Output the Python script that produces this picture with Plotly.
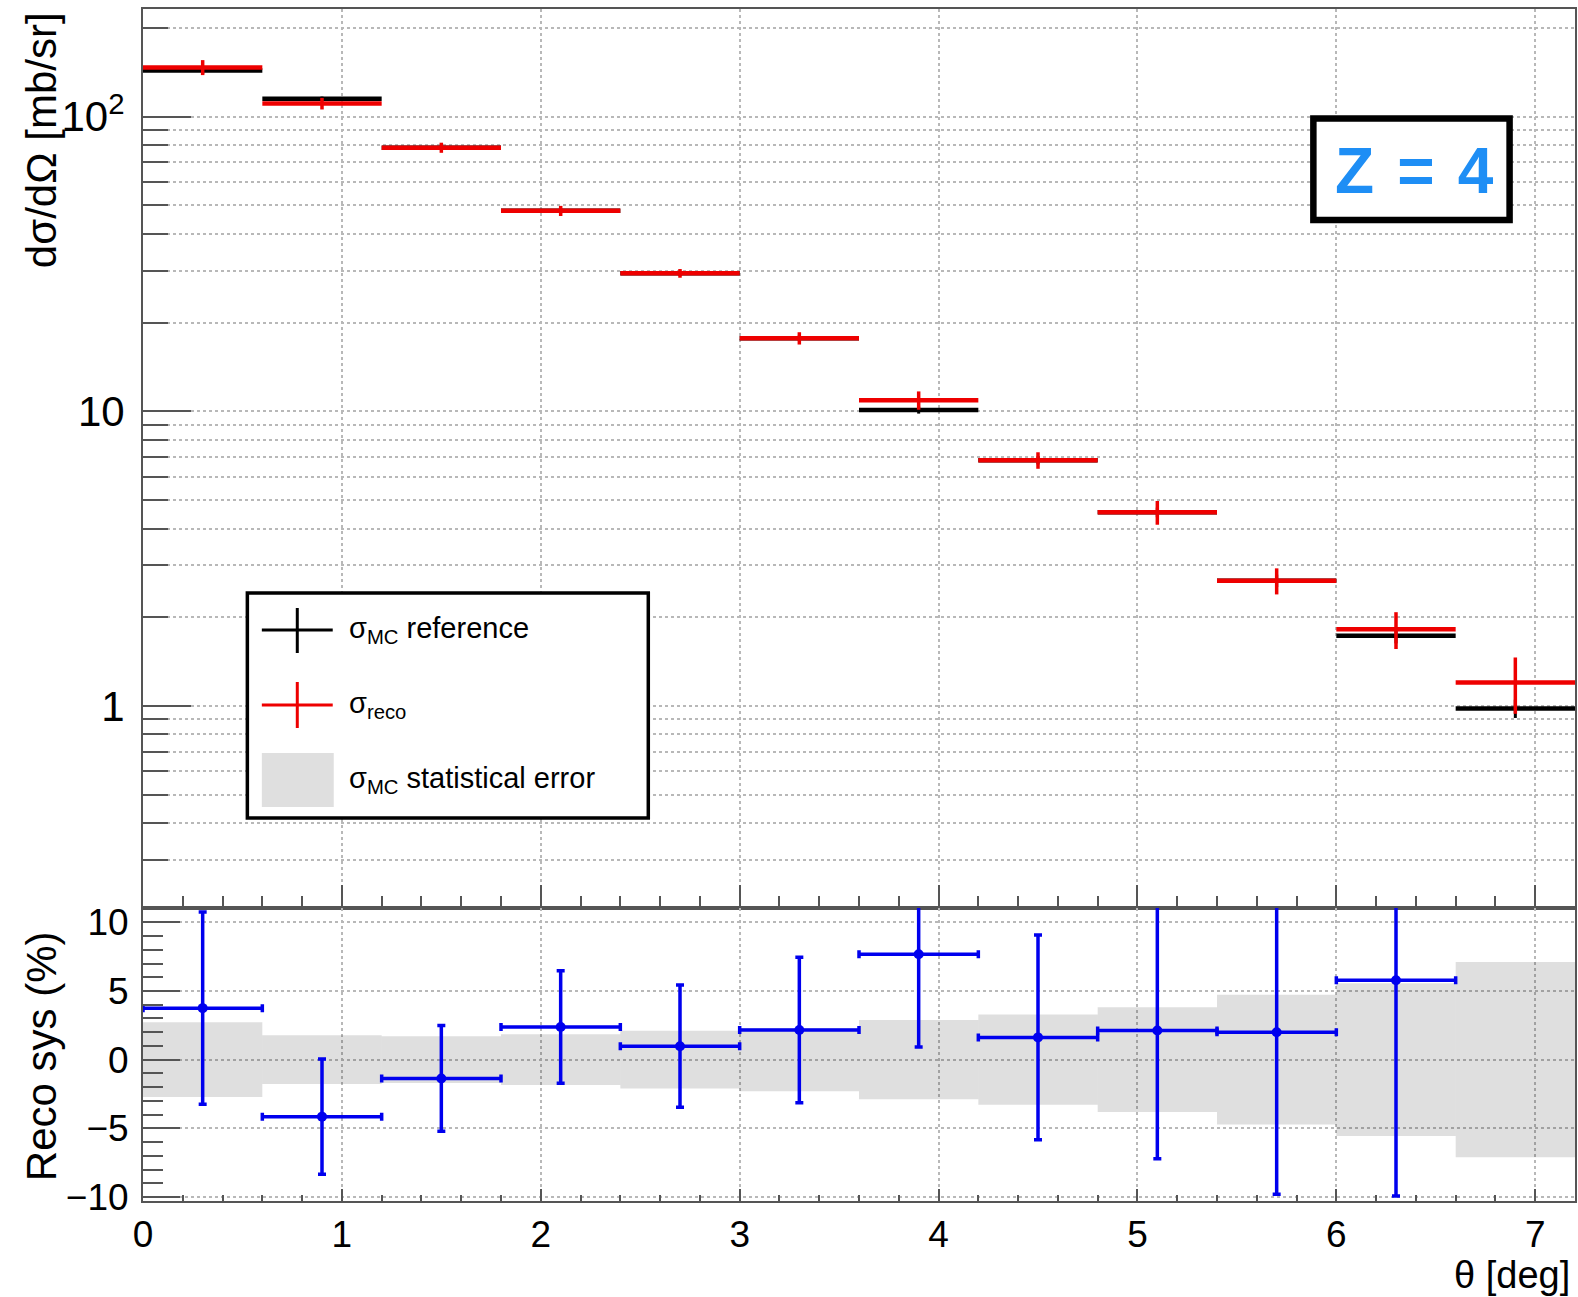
import plotly.graph_objects as go

# ---------------- data ----------------
bin_centers = [0.3, 0.9, 1.5, 2.1, 2.7, 3.3, 3.9, 4.5, 5.1, 5.7, 6.3, 6.9]
bin_half_widths = [0.3, 0.3, 0.3, 0.3, 0.3, 0.3, 0.3, 0.3, 0.3, 0.3, 0.3, 0.3]

sigma_mc = [143.6, 115.0, 78.5, 47.9, 29.4, 17.7, 10.1, 6.82, 4.54, 2.66, 1.73, 0.98]
sigma_mc_err = [3.9, 2.0, 1.3, 0.9, 0.6, 0.4, 0.28, 0.22, 0.17, 0.13, 0.10, 0.07]
sigma_reco = [147.0, 110.8, 78.5, 47.9, 29.4, 17.7, 10.9, 6.82, 4.54, 2.66, 1.82, 1.20]
sigma_reco_err = [8.6, 5.0, 3.1, 1.9, 1.0, 0.85, 0.78, 0.44, 0.42, 0.27, 0.26, 0.26]

sys_centers = [0.3, 0.9, 1.5, 2.1, 2.7, 3.3, 3.9, 4.5, 5.1, 5.7, 6.3]
sys_half_widths = [0.3, 0.3, 0.3, 0.3, 0.3, 0.3, 0.3, 0.3, 0.3, 0.3, 0.3]
reco_sys = [3.75, -4.15, -1.37, 2.38, 0.98, 2.16, 7.67, 1.62, 2.12, 2.0, 5.78]
reco_sys_err = [7.0, 4.2, 3.85, 4.1, 4.45, 5.3, 6.75, 7.45, 9.34, 11.8, 15.7]

mc_stat_band = [2.72, 1.77, 1.70, 1.85, 2.1, 2.3, 2.88, 3.28, 3.82, 4.72, 5.56, 7.1]

major_log_ticks = [1, 10, 100]
major_log_text = ["1", "10", "10<sup>2</sup>"]
minor_log_ticks = [0.3, 0.4, 0.5, 0.6, 0.7, 0.8, 0.9,
                   2, 3, 4, 5, 6, 7, 8, 9,
                   20, 30, 40, 50, 60, 70, 80, 90, 200]
sys_ticks = [-10, -5, 0, 5, 10]
sys_tick_text = ["\u221210", "\u22125", "0", "5", "10"]

# ---------------- layout helpers ----------------
W, H = 1578, 1297
L, R, T, B = 143, 1577, 9, 1201
split_px = 908
split = (B - split_px) / (B - T)


def px_x(p):
    return (p - L) / (R - L)


def px_y(p):
    return (B - p) / (B - T)


FONT = "Liberation Sans, Arial, Helvetica, sans-serif"
AXC = "#555555"
GRIDC = "#b8b8b8"
BLUE = "#0000ee"

fig = go.Figure()

# ---------------- top panel ----------------
fig.add_trace(go.Scatter(
    x=bin_centers, y=sigma_mc, mode="markers",
    marker=dict(size=1, color="black"),
    error_x=dict(type="data", array=bin_half_widths, color="black", thickness=4.5, width=0),
    error_y=dict(type="data", array=sigma_mc_err, color="black", thickness=3, width=0),
    xaxis="x", yaxis="y", showlegend=False, hoverinfo="skip"))
fig.add_trace(go.Scatter(
    x=bin_centers, y=sigma_reco, mode="markers",
    marker=dict(size=1, color="#ee0000"),
    error_x=dict(type="data", array=bin_half_widths, color="#ee0000", thickness=4.5, width=0),
    error_y=dict(type="data", array=sigma_reco_err, color="#ee0000", thickness=3.5, width=0),
    xaxis="x", yaxis="y", showlegend=False, hoverinfo="skip"))

# ---------------- bottom panel ----------------
fig.add_trace(go.Bar(
    x=bin_centers, y=[2 * b for b in mc_stat_band], base=[-b for b in mc_stat_band],
    width=[2 * w for w in bin_half_widths],
    marker=dict(color="rgba(0,0,0,0.125)", line=dict(width=0)),
    xaxis="x2", yaxis="y2", showlegend=False, hoverinfo="skip"))
fig.add_trace(go.Scatter(
    x=sys_centers, y=reco_sys, mode="markers",
    marker=dict(size=10, color=BLUE, symbol="circle"),
    error_x=dict(type="data", array=sys_half_widths, color=BLUE, thickness=3.5, width=4),
    error_y=dict(type="data", array=reco_sys_err, color=BLUE, thickness=3.5, width=4),
    xaxis="x2", yaxis="y2", showlegend=False, hoverinfo="skip", cliponaxis=True))

common_line = dict(showline=True, linecolor=AXC, linewidth=2, mirror=True, zeroline=False)

fig.update_layout(
    width=W, height=H,
    margin=dict(l=L, r=W - R, t=T, b=H - B, pad=0),
    paper_bgcolor="white", plot_bgcolor="white",
    font=dict(family=FONT, color="black"),
    barmode="overlay",
    xaxis=dict(
        domain=[0, 1], anchor="y", range=[0, 7.2], matches="x2",
        showticklabels=False, ticks="inside", tick0=0, dtick=1, ticklen=23,
        tickwidth=2, tickcolor=AXC,
        minor=dict(ticks="inside", dtick=0.2, ticklen=12, tickwidth=2, tickcolor=AXC, showgrid=False),
        showgrid=True, gridcolor=GRIDC, griddash="dot", gridwidth=1.5,
        **common_line),
    yaxis=dict(
        domain=[split, 1], anchor="x", type="log", range=[-0.686, 2.3655],
        tickvals=major_log_ticks, ticktext=major_log_text,
        ticks="inside", ticklen=48, tickwidth=2, tickcolor=AXC,
        tickfont=dict(size=42, family=FONT, color="black"),
        ticklabelstandoff=8,
        minor=dict(tickvals=minor_log_ticks, ticks="inside", ticklen=25, tickwidth=2,
                   tickcolor=AXC, showgrid=True, gridcolor=GRIDC, griddash="dot", gridwidth=1.5),
        showgrid=True, gridcolor=GRIDC, griddash="dot", gridwidth=1.5,
        **common_line),
    xaxis2=dict(
        domain=[0, 1], anchor="y2", range=[0, 7.2],
        ticks="inside", tick0=0, dtick=1, ticklen=12, tickwidth=2, tickcolor=AXC,
        tickfont=dict(size=37, family=FONT, color="black"),
        minor=dict(ticks="inside", dtick=0.2, ticklen=6, tickwidth=2, tickcolor=AXC, showgrid=False),
        showgrid=True, gridcolor=GRIDC, griddash="dot", gridwidth=1.5,
        **common_line),
    yaxis2=dict(
        domain=[0, split], anchor="x2", range=[-10.29, 11.04],
        tickvals=sys_ticks, ticktext=sys_tick_text,
        ticks="inside", ticklen=37, tickwidth=2, tickcolor=AXC,
        tickfont=dict(size=37, family=FONT, color="black"),
        ticklabelstandoff=5,
        minor=dict(ticks="inside", dtick=1, tick0=0, ticklen=20, tickwidth=2, tickcolor=AXC, showgrid=False),
        showgrid=True, gridcolor=GRIDC, griddash="dot", gridwidth=1.5,
        **common_line),
)

shapes = []
annotations = []

# legend box
shapes.append(dict(type="rect", xref="paper", yref="paper",
                   x0=px_x(247.5), x1=px_x(649), y0=px_y(818), y1=px_y(593),
                   line=dict(color="black", width=3.5), fillcolor="white", layer="above"))
# black cross
shapes.append(dict(type="line", xref="paper", yref="paper",
                   x0=px_x(262), x1=px_x(333), y0=px_y(630), y1=px_y(630),
                   line=dict(color="black", width=3)))
shapes.append(dict(type="line", xref="paper", yref="paper",
                   x0=px_x(297.5), x1=px_x(297.5), y0=px_y(608), y1=px_y(653),
                   line=dict(color="black", width=3)))
# red cross
shapes.append(dict(type="line", xref="paper", yref="paper",
                   x0=px_x(262), x1=px_x(333), y0=px_y(705), y1=px_y(705),
                   line=dict(color="#ee0000", width=3)))
shapes.append(dict(type="line", xref="paper", yref="paper",
                   x0=px_x(297.5), x1=px_x(297.5), y0=px_y(682), y1=px_y(728),
                   line=dict(color="#ee0000", width=3)))
# grey box
shapes.append(dict(type="rect", xref="paper", yref="paper",
                   x0=px_x(262), x1=px_x(334), y0=px_y(807), y1=px_y(753),
                   line=dict(width=0), fillcolor="#dfdfdf"))

legend_texts = ["\u03c3<sub>MC</sub> reference", "\u03c3<sub>reco</sub>",
                "\u03c3<sub>MC</sub> statistical error"]
legend_y = [630, 705, 780]
for t, yy in zip(legend_texts, legend_y):
    annotations.append(dict(text=t, xref="paper", yref="paper", x=px_x(347), y=px_y(yy),
                            xanchor="left", yanchor="middle", showarrow=False,
                            font=dict(size=29, family=FONT, color="black")))

# Z = 4 box
shapes.append(dict(type="rect", xref="paper", yref="paper",
                   x0=px_x(1315), x1=px_x(1511.5), y0=px_y(220), y1=px_y(118.5),
                   line=dict(color="black", width=6.5), fillcolor="white", layer="above"))
annotations.append(dict(text="<b>Z \u200a=\u200a 4</b>", xref="paper", yref="paper",
                        x=px_x(1416), y=px_y(171), xanchor="center", yanchor="middle",
                        showarrow=False, font=dict(size=64, family=FONT, color="#1e8ef5")))

# axis titles
annotations.append(dict(text="d\u03c3/d\u03a9 [mb/sr]", xref="paper", yref="paper",
                        x=px_x(41), y=px_y(10), xanchor="center", yanchor="top",
                        textangle=-90, showarrow=False,
                        font=dict(size=42, family=FONT, color="black")))
annotations.append(dict(text="Reco sys (%)", xref="paper", yref="paper",
                        x=px_x(41), y=px_y(1056), xanchor="center", yanchor="middle",
                        textangle=-90, showarrow=False,
                        font=dict(size=42, family=FONT, color="black")))
annotations.append(dict(text="\u03b8 [deg]", xref="paper", yref="paper",
                        x=px_x(1574), y=px_y(1274.5), xanchor="right", yanchor="middle",
                        showarrow=False, font=dict(size=38, family=FONT, color="black")))

fig.update_layout(shapes=shapes, annotations=annotations)

fig.write_html("out.html")
